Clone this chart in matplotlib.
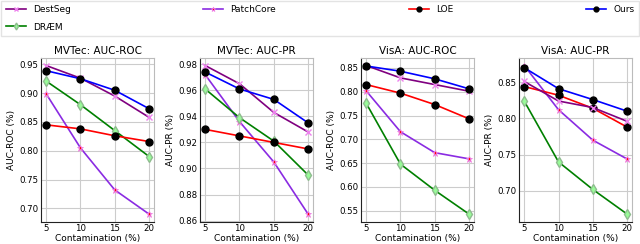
import matplotlib
matplotlib.use("Agg")
import matplotlib.pyplot as plt

x = [5, 10, 15, 20]
titles = ["MVTec: AUC-ROC", "MVTec: AUC-PR", "VisA: AUC-ROC", "VisA: AUC-PR"]
ylabels = ["AUC-ROC (%)", "AUC-PR (%)", "AUC-ROC (%)", "AUC-PR (%)"]
xlabel = "Contamination (%)"
methods = ["DestSeg", "DRÆM", "PatchCore", "LOE", "Ours"]

destseg = [[0.948, 0.926, 0.895, 0.858],
           [0.979, 0.965, 0.943, 0.928],
           [0.855, 0.829, 0.815, 0.801],
           [0.851, 0.824, 0.815, 0.796]]
draem = [[0.921, 0.880, 0.835, 0.790],
         [0.961, 0.939, 0.921, 0.895],
         [0.776, 0.648, 0.593, 0.543],
         [0.824, 0.740, 0.702, 0.668]]
patchcore = [[0.899, 0.805, 0.732, 0.690],
             [0.972, 0.936, 0.905, 0.865],
             [0.802, 0.716, 0.672, 0.659],
             [0.873, 0.812, 0.770, 0.744]]
loe = [[0.845, 0.838, 0.826, 0.816],
       [0.930, 0.925, 0.920, 0.915],
       [0.815, 0.797, 0.773, 0.743],
       [0.844, 0.832, 0.814, 0.788]]
ours = [[0.939, 0.925, 0.905, 0.873],
        [0.974, 0.961, 0.953, 0.935],
        [0.854, 0.843, 0.827, 0.806],
        [0.870, 0.841, 0.826, 0.810]]

styles = {
    "DestSeg": dict(color="purple", marker="x", mec="violet", mfc="violet", ms=4.5, mew=1.0),
    "DRÆM": dict(color="green", marker="d", mec="darkseagreen", mfc="palegreen", ms=5, mew=1.0),
    "PatchCore": dict(color="blueviolet", marker="*", mec="violet", mfc="red", ms=5, mew=0.6),
    "LOE": dict(color="red", marker="o", mec="black", mfc="black", ms=5),
    "Ours": dict(color="blue", marker="o", mec="black", mfc="black", ms=5),
}
series = {"DestSeg": destseg, "DRÆM": draem, "PatchCore": patchcore, "LOE": loe, "Ours": ours}
order = ["PatchCore", "DRÆM", "LOE", "DestSeg", "Ours"]

fig = plt.figure(figsize=(6.4, 2.44), dpi=100)
lefts = [0.064, 0.3125, 0.564, 0.811]
handles = {}
for i in range(4):
    ax = fig.add_axes([lefts[i], 0.092, 0.177, 0.67])
    for m in order:
        st = styles[m]
        (h,) = ax.plot(x, series[m][i], lw=1.2, label=m, **st)
        handles[m] = h
    ax.set_title(titles[i], fontsize=7.5, pad=3)
    ax.set_ylabel(ylabels[i], fontsize=6.5, labelpad=2)
    ax.set_xlabel(xlabel, fontsize=6.5, labelpad=0.5)
    ax.set_xticks(x)
    ax.tick_params(labelsize=6.2, length=0, pad=2)
    ax.grid(True, color="#cccccc", lw=0.8)
    ax.set_axisbelow(True)
    for s in ["top", "right"]:
        ax.spines[s].set_color("#bbbbbb")
    for s in ["left", "bottom"]:
        ax.spines[s].set_color("#222222")
    for s in ax.spines.values():
        s.set_linewidth(0.8)

leg_order = ["DestSeg", "DRÆM", "PatchCore", "LOE", "Ours"]
fig.legend([handles[m] for m in leg_order], leg_order, loc="upper left",
           bbox_to_anchor=(0.002, 0.996, 0.996, 0), mode="expand", ncol=4,
           borderaxespad=0, fontsize=6.5, markerscale=0.7, handlelength=2.2,
           frameon=True, edgecolor="#dddddd", fancybox=False,
           borderpad=0.5, labelspacing=0.9)
fig.savefig("out.png", dpi=100)
